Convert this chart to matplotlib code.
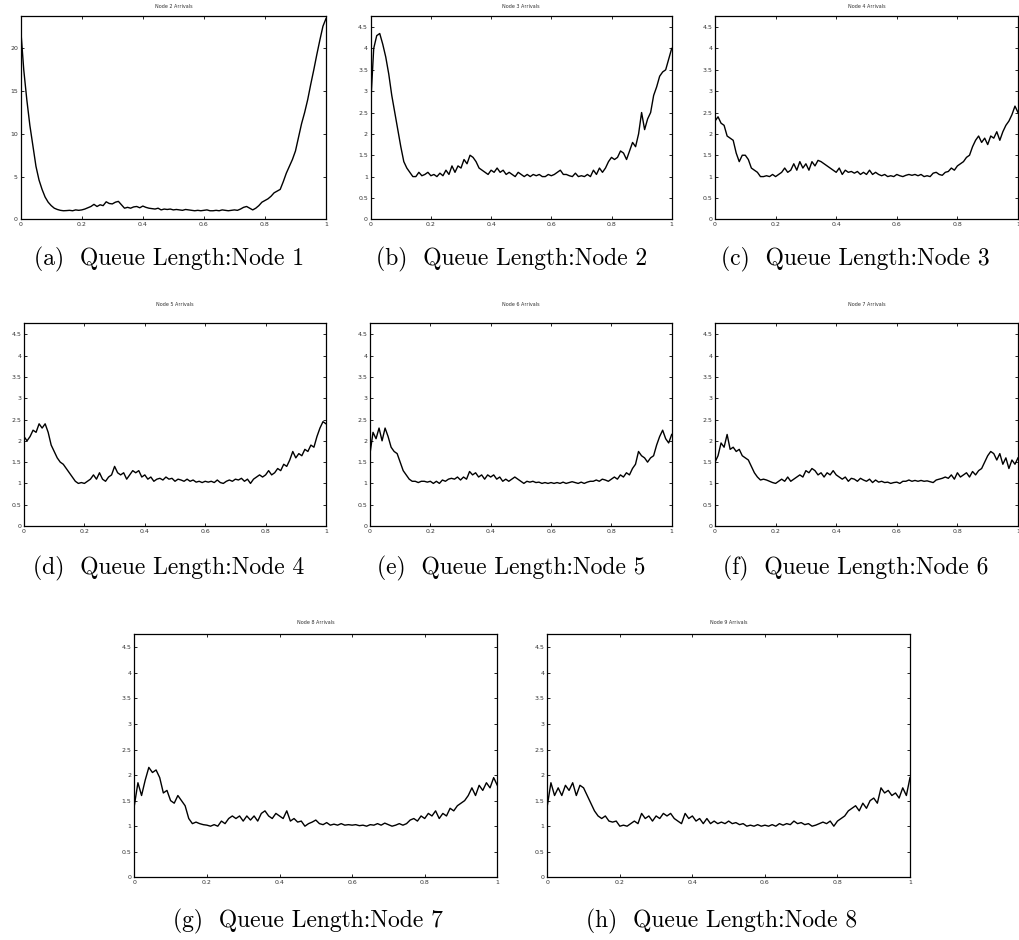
from matplotlib import pyplot as plt
import numpy as np

# Datos
# ========================================
x = np.linspace(0, 1, 101)

node1 = [22.3, 17.5, 14.0, 11.0, 8.6, 6.2, 4.6, 3.5, 2.6, 2.0,
         1.6, 1.3, 1.15, 1.05, 1.0, 1.02, 1.05, 1.0, 1.1, 1.05,
         1.1, 1.2, 1.35, 1.5, 1.75, 1.5, 1.7, 1.6, 2.05, 1.85,
         1.8, 2.0, 2.1, 1.7, 1.3, 1.4, 1.3, 1.45, 1.5, 1.35,
         1.55, 1.4, 1.3, 1.25, 1.2, 1.3, 1.1, 1.2, 1.15, 1.2,
         1.1, 1.15, 1.1, 1.05, 1.15, 1.1, 1.05, 1.0, 1.05, 1.0,
         1.05, 1.1, 1.0, 1.0, 1.05, 1.0, 1.1, 1.05, 1.0, 1.05,
         1.1, 1.05, 1.2, 1.4, 1.5, 1.3, 1.1, 1.3, 1.6, 2.0,
         2.2, 2.4, 2.7, 3.1, 3.3, 3.5, 4.4, 5.4, 6.2, 7.0,
         8.0, 9.6, 11.2, 12.5, 14.0, 15.8, 17.5, 19.3, 21.0, 22.6,
         23.5]

node2 = [2.7, 4.0, 4.3, 4.35, 4.1, 3.8, 3.4, 2.9, 2.5, 2.1,
         1.7, 1.35, 1.2, 1.1, 1.0, 1.0, 1.1, 1.02, 1.05, 1.1,
         1.02, 1.05, 1.0, 1.08, 1.02, 1.15, 1.05, 1.25, 1.1, 1.25,
         1.2, 1.4, 1.3, 1.5, 1.45, 1.35, 1.2, 1.15, 1.1, 1.05,
         1.15, 1.1, 1.2, 1.1, 1.15, 1.05, 1.1, 1.05, 1.0, 1.1,
         1.05, 1.0, 1.05, 1.0, 1.05, 1.02, 1.05, 1.0, 1.0, 1.05,
         1.02, 1.05, 1.1, 1.15, 1.05, 1.05, 1.02, 1.0, 1.08, 1.0,
         1.02, 1.0, 1.05, 1.0, 1.15, 1.05, 1.2, 1.1, 1.2, 1.35,
         1.45, 1.4, 1.45, 1.6, 1.55, 1.4, 1.6, 1.8, 1.7, 2.0,
         2.5, 2.1, 2.35, 2.5, 2.9, 3.1, 3.35, 3.45, 3.5, 3.75,
         4.0]

node3 = [2.3, 2.4, 2.25, 2.2, 1.95, 1.9, 1.85, 1.55, 1.35, 1.5,
         1.5, 1.4, 1.2, 1.15, 1.1, 1.0, 1.0, 1.02, 1.0, 1.05,
         1.0, 1.05, 1.1, 1.2, 1.1, 1.15, 1.3, 1.15, 1.35, 1.2,
         1.3, 1.15, 1.35, 1.25, 1.38, 1.35, 1.3, 1.25, 1.2, 1.15,
         1.1, 1.2, 1.05, 1.15, 1.1, 1.12, 1.08, 1.12, 1.05, 1.1,
         1.05, 1.15, 1.05, 1.1, 1.05, 1.02, 1.05, 1.0, 1.02, 1.0,
         1.05, 1.02, 1.0, 1.03, 1.05, 1.03, 1.05, 1.02, 1.05, 1.0,
         1.02, 1.0, 1.08, 1.1, 1.05, 1.03, 1.1, 1.12, 1.2, 1.15,
         1.25, 1.3, 1.35, 1.45, 1.5, 1.7, 1.85, 1.95, 1.8, 1.9,
         1.75, 1.95, 1.9, 2.05, 1.85, 2.05, 2.2, 2.3, 2.45, 2.65,
         2.5]

node4 = [2.1, 2.0, 2.1, 2.25, 2.2, 2.4, 2.3, 2.4, 2.2, 1.9,
         1.75, 1.6, 1.5, 1.45, 1.35, 1.25, 1.15, 1.05, 1.0, 1.02,
         1.0, 1.05, 1.1, 1.2, 1.1, 1.25, 1.1, 1.05, 1.15, 1.2,
         1.4, 1.25, 1.2, 1.25, 1.1, 1.2, 1.3, 1.25, 1.3, 1.15,
         1.2, 1.1, 1.15, 1.05, 1.1, 1.12, 1.08, 1.15, 1.1, 1.12,
         1.05, 1.1, 1.08, 1.05, 1.1, 1.05, 1.08, 1.03, 1.05, 1.02,
         1.05, 1.03, 1.05, 1.02, 1.08, 1.02, 1.0, 1.05, 1.08, 1.05,
         1.1, 1.08, 1.12, 1.05, 1.1, 1.0, 1.1, 1.15, 1.2, 1.15,
         1.2, 1.3, 1.2, 1.25, 1.35, 1.3, 1.45, 1.4, 1.55, 1.75,
         1.6, 1.7, 1.65, 1.8, 1.75, 1.9, 1.85, 2.1, 2.3, 2.45,
         2.4]

node5 = [1.7, 2.2, 2.05, 2.3, 2.0, 2.3, 2.1, 1.85, 1.75, 1.7,
         1.5, 1.3, 1.2, 1.1, 1.05, 1.05, 1.02, 1.05, 1.05, 1.03,
         1.05, 1.0, 1.05, 1.0, 1.08, 1.05, 1.1, 1.12, 1.1, 1.15,
         1.08, 1.15, 1.1, 1.28, 1.2, 1.25, 1.15, 1.2, 1.1, 1.2,
         1.15, 1.2, 1.1, 1.15, 1.05, 1.1, 1.05, 1.1, 1.15, 1.1,
         1.05, 1.0, 1.05, 1.03, 1.05, 1.02, 1.03, 1.0, 1.02, 1.0,
         1.02, 1.0, 1.02, 1.0, 1.03, 1.0, 1.02, 1.04, 1.02, 1.0,
         1.03, 1.0, 1.03, 1.05, 1.05, 1.08, 1.05, 1.1, 1.08, 1.05,
         1.1, 1.15, 1.1, 1.2, 1.15, 1.25, 1.2, 1.35, 1.45, 1.75,
         1.65, 1.6, 1.5, 1.6, 1.65, 1.9, 2.1, 2.25, 2.05, 1.95,
         2.15]

node6 = [1.5, 1.65, 1.95, 1.85, 2.15, 1.8, 1.85, 1.75, 1.8, 1.65,
         1.6, 1.55, 1.4, 1.25, 1.15, 1.08, 1.1, 1.08, 1.05, 1.02,
         1.0, 1.05, 1.1, 1.05, 1.15, 1.05, 1.1, 1.15, 1.2, 1.15,
         1.3, 1.25, 1.35, 1.3, 1.2, 1.25, 1.15, 1.25, 1.2, 1.3,
         1.2, 1.15, 1.1, 1.15, 1.05, 1.12, 1.1, 1.05, 1.12, 1.08,
         1.05, 1.1, 1.02, 1.08, 1.03, 1.05, 1.02, 1.03, 1.0, 1.02,
         1.03, 1.0, 1.05, 1.05, 1.08, 1.05, 1.07, 1.05, 1.07, 1.05,
         1.06, 1.04, 1.02, 1.08, 1.1, 1.12, 1.15, 1.12, 1.2, 1.1,
         1.25, 1.15, 1.2, 1.25, 1.15, 1.28, 1.2, 1.3, 1.35, 1.5,
         1.65, 1.75, 1.7, 1.55, 1.7, 1.45, 1.6, 1.35, 1.55, 1.45,
         1.6]

node7 = [1.4, 1.85, 1.6, 1.9, 2.15, 2.05, 2.1, 1.95, 1.65, 1.7,
         1.5, 1.45, 1.6, 1.5, 1.4, 1.15, 1.05, 1.08, 1.05, 1.03,
         1.02, 1.0, 1.03, 1.0, 1.1, 1.05, 1.15, 1.2, 1.15, 1.2,
         1.1, 1.2, 1.12, 1.2, 1.1, 1.25, 1.3, 1.2, 1.15, 1.25,
         1.2, 1.15, 1.3, 1.1, 1.15, 1.08, 1.1, 1.0, 1.05, 1.08,
         1.12, 1.05, 1.03, 1.07, 1.02, 1.04, 1.02, 1.05, 1.02, 1.03,
         1.02, 1.03, 1.01, 1.02, 1.0, 1.03, 1.02, 1.05, 1.02, 1.06,
         1.03, 1.0, 1.02, 1.05, 1.02, 1.05, 1.12, 1.15, 1.1, 1.2,
         1.15, 1.25, 1.2, 1.3, 1.15, 1.25, 1.2, 1.35, 1.3, 1.4,
         1.45, 1.5, 1.6, 1.75, 1.6, 1.8, 1.7, 1.85, 1.75, 1.95,
         1.8]

node8 = [1.4, 1.85, 1.6, 1.75, 1.6, 1.8, 1.7, 1.85, 1.6, 1.8,
         1.75, 1.6, 1.45, 1.3, 1.2, 1.15, 1.2, 1.1, 1.08, 1.1,
         1.0, 1.02, 1.0, 1.05, 1.1, 1.05, 1.25, 1.15, 1.2, 1.1,
         1.2, 1.15, 1.25, 1.2, 1.25, 1.15, 1.1, 1.05, 1.25, 1.15,
         1.2, 1.1, 1.15, 1.05, 1.15, 1.05, 1.1, 1.05, 1.08, 1.05,
         1.1, 1.05, 1.07, 1.03, 1.05, 1.0, 1.02, 1.0, 1.03, 1.0,
         1.02, 1.0, 1.03, 1.0, 1.05, 1.02, 1.05, 1.03, 1.1, 1.05,
         1.07, 1.03, 1.05, 1.0, 1.02, 1.05, 1.08, 1.05, 1.1, 1.0,
         1.1, 1.15, 1.2, 1.3, 1.35, 1.4, 1.3, 1.45, 1.35, 1.5,
         1.55, 1.45, 1.75, 1.65, 1.7, 1.6, 1.65, 1.55, 1.75, 1.6,
         1.95]

series = [node1, node2, node3, node4, node5, node6, node7, node8]
titles = ["Node %d Arrivals" % (i + 2) for i in range(8)]
captions = ["(%s)  Queue Length:Node %d" % (l, i + 1) for i, l in enumerate("abcdefgh")]
xticks = [0, 0.2, 0.4, 0.6, 0.8, 1]
yticks_a = [0, 5, 10, 15, 20]
yticks = [0, 0.5, 1, 1.5, 2, 2.5, 3, 3.5, 4, 4.5]

# Posiciones en pixeles: (izq, arriba, der, abajo), titulo y, leyenda (x, y)
W, H = 1019, 940
boxes = [(20.7, 16, 326, 219.3), (370.7, 16, 671.7, 219.3), (715, 16, 1018, 219.3),
         (24, 323.3, 326, 526), (370, 323.3, 671.7, 526), (715, 323.3, 1018, 526),
         (134.3, 634, 497.3, 877.3), (547.3, 634, 910, 877.3)]
title_y = [7, 7, 7, 305, 305, 305, 623, 623]
cap_pos = [(168.7, 259), (511.7, 259), (855.7, 259),
           (169, 568), (511.7, 568), (855.7, 568),
           (308, 921.7), (721.7, 921.7)]

fig = plt.figure(figsize=(W / 100, H / 100), dpi=100)

for i in range(8):
    l, t, r, b = boxes[i]
    ax = fig.add_axes([l / W, 1 - b / H, (r - l) / W, (b - t) / H])
    ax.plot(x, series[i], c="k", lw=1.0)
    ax.set_xlim(0, 1)
    ax.set_xticks(xticks)
    ax.set_xticklabels(["%g" % v for v in xticks])
    if i == 0:
        ax.set_ylim(0, 23.8)
        ax.set_yticks(yticks_a)
    else:
        ax.set_ylim(0, 4.76)
        ax.set_yticks(yticks)
    ax.set_yticklabels(["%g" % v for v in ax.get_yticks()])
    ax.tick_params(direction="in", top=True, right=True, length=2.5, width=0.6,
                   labelsize=4.5, pad=2, labelcolor="#333333")
    for s in ax.spines.values():
        s.set_linewidth(0.9)
    fig.text((l + r) / 2 / W, 1 - title_y[i] / H, titles[i], ha="center", va="center",
             fontsize=3.5, color="#333333")
    cx, cy = cap_pos[i]
    fig.text(cx / W, 1 - cy / H, captions[i], ha="center", va="center",
             fontsize=17, family="cmr10")

fig.savefig("out.png", dpi=100)
